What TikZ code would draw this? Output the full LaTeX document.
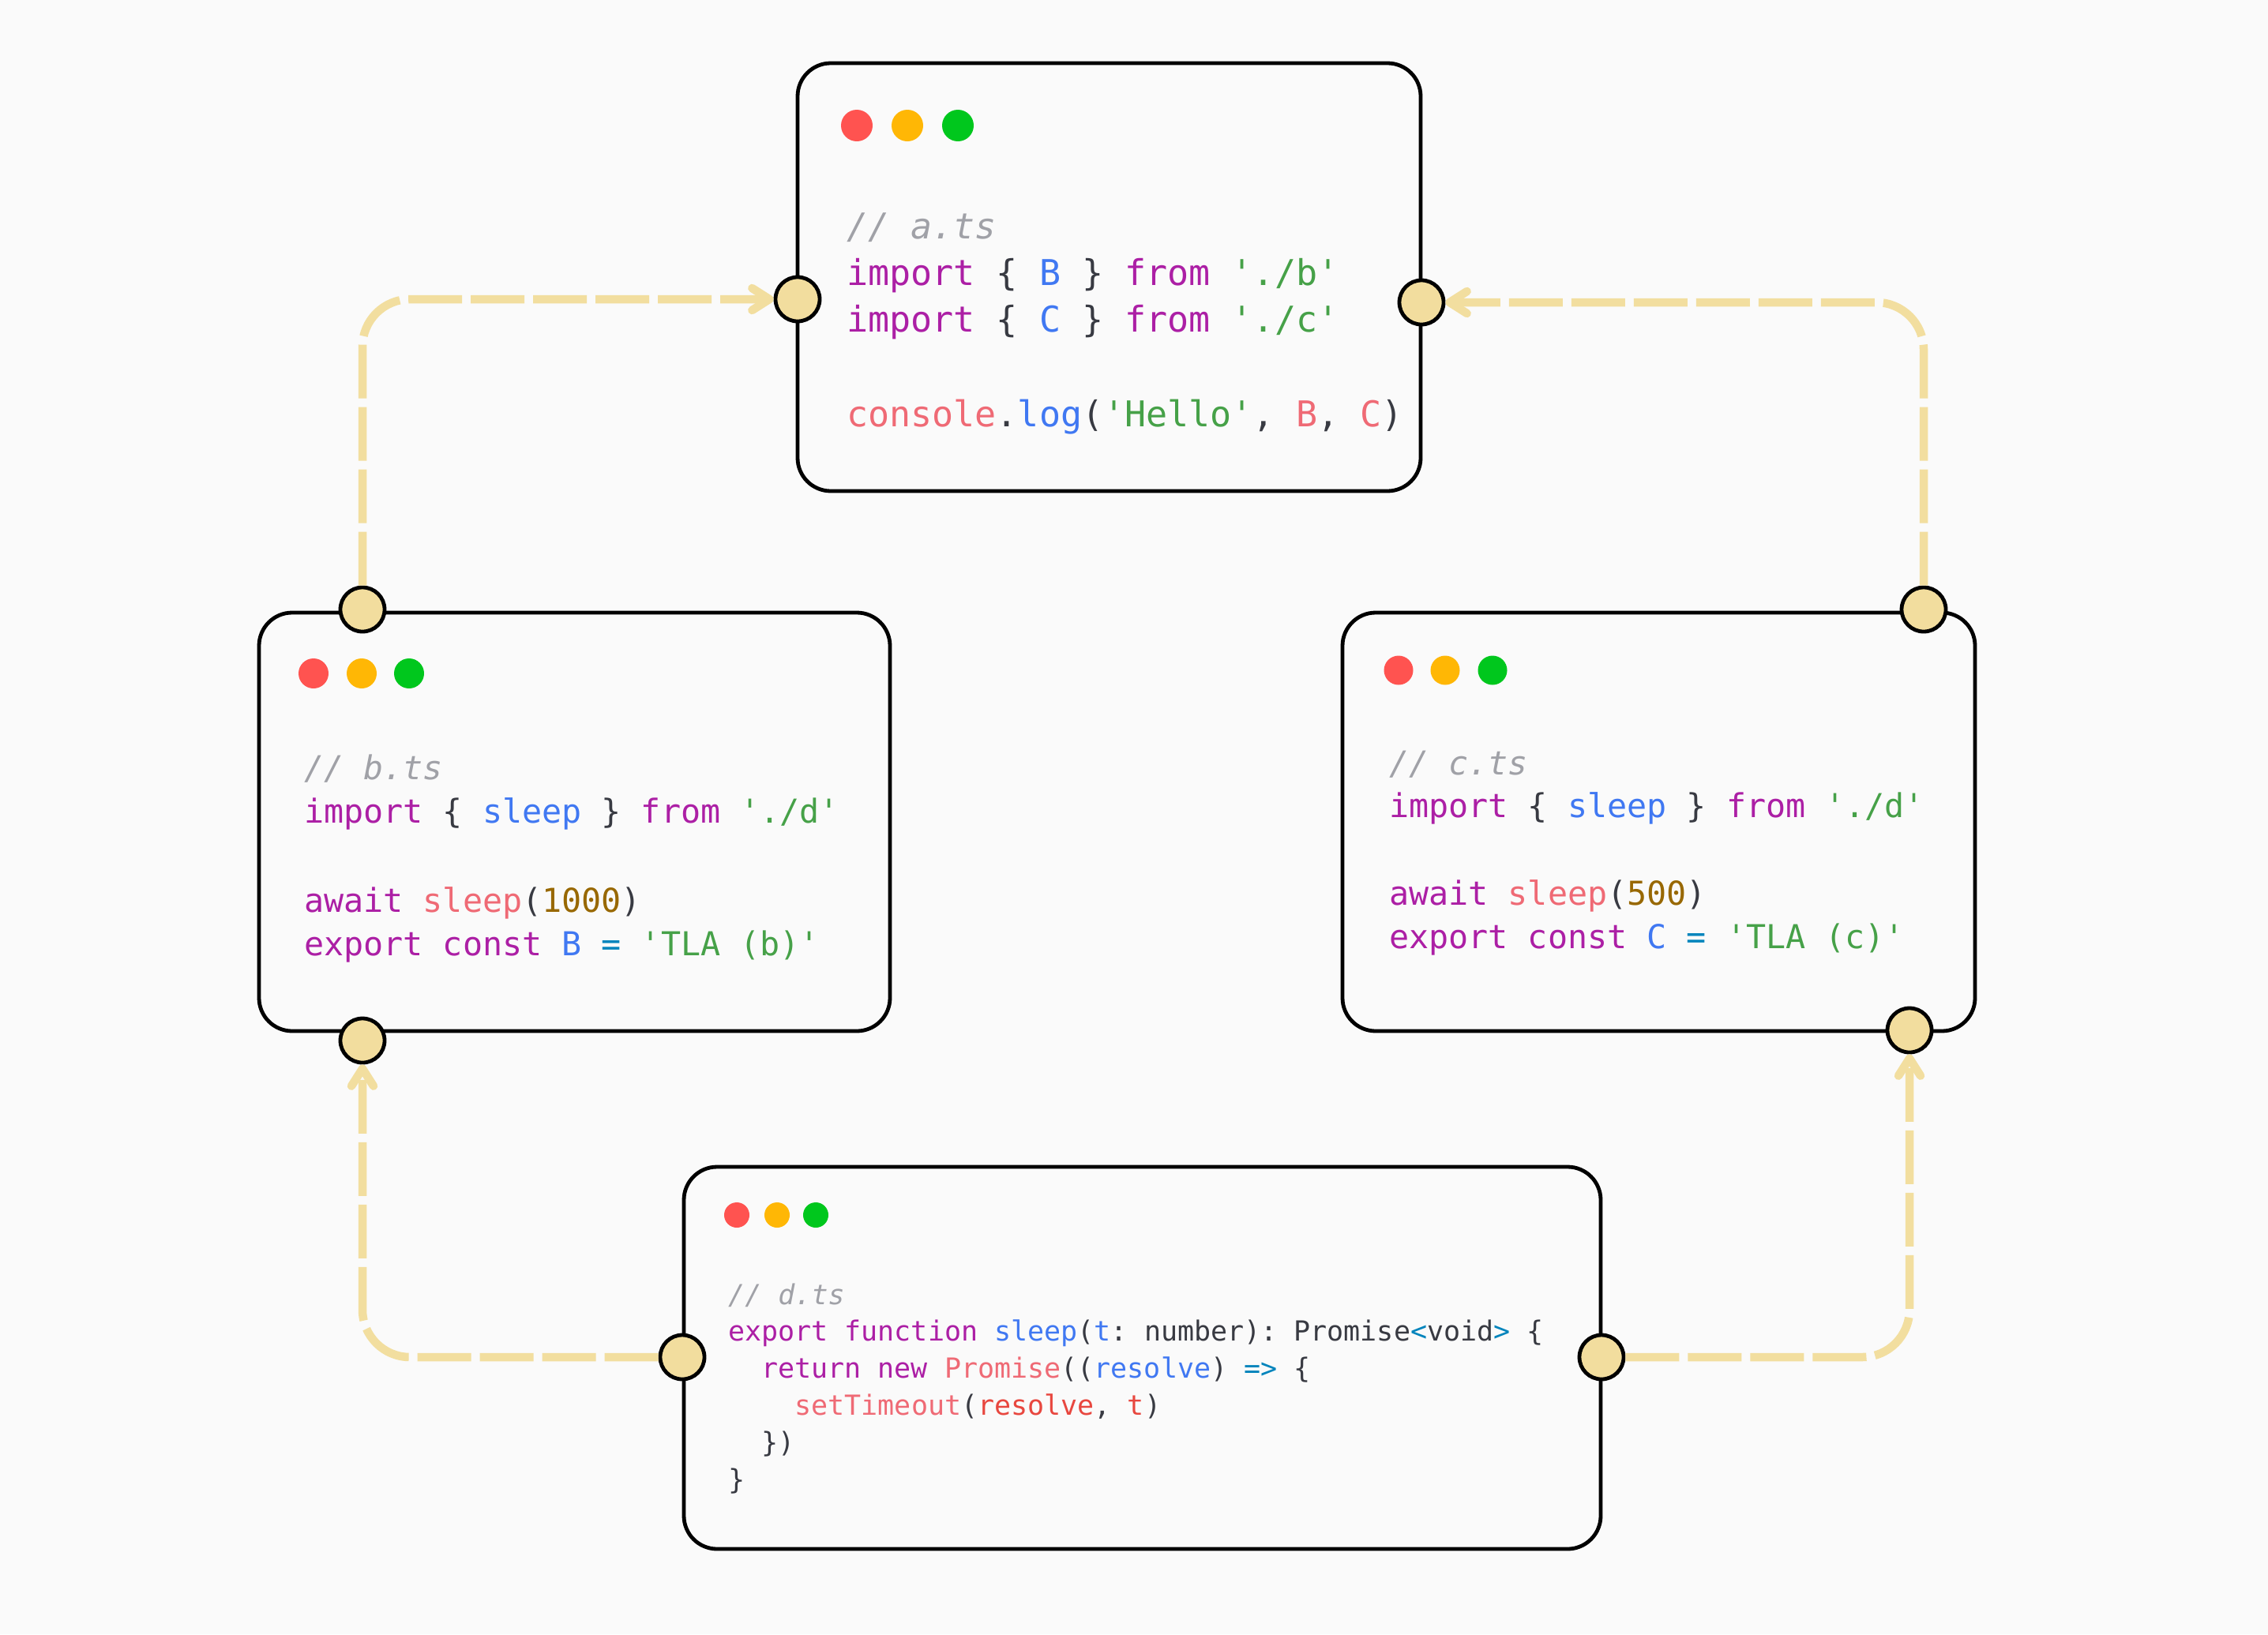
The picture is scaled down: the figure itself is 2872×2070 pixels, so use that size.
\documentclass[tikz,border=0pt]{standalone}
\usepackage{fontspec}
\setmonofont{DejaVu Sans Mono}
\usetikzlibrary{arrows.meta}

% palette
\definecolor{bg}{HTML}{FAFAFA}
\definecolor{plain}{HTML}{383A42}
\definecolor{kw}{HTML}{AC1FA5}
\definecolor{fn}{HTML}{4078F2}
\definecolor{strg}{HTML}{46A148}
\definecolor{numc}{HTML}{986801}
\definecolor{opc}{HTML}{0184BC}
\definecolor{callc}{HTML}{EF6A75}
\definecolor{varc}{HTML}{E8473F}
\definecolor{cmt}{HTML}{A0A1A7}
\definecolor{dotred}{HTML}{FF5350}
\definecolor{dotyel}{HTML}{FFB705}
\definecolor{dotgrn}{HTML}{00C71D}
\definecolor{conn}{HTML}{F2DE9F}
\definecolor{portfill}{HTML}{F2DD9E}

% syntax colouring helpers
\newcommand\cKw[1]{\textcolor{kw}{#1}}
\newcommand\cFn[1]{\textcolor{fn}{#1}}
\newcommand\cStr[1]{\textcolor{strg}{#1}}
\newcommand\cNum[1]{\textcolor{numc}{#1}}
\newcommand\cOp[1]{\textcolor{opc}{#1}}
\newcommand\cCall[1]{\textcolor{callc}{#1}}
\newcommand\cVar[1]{\textcolor{varc}{#1}}
\newcommand\cCmt[1]{\textcolor{cmt}{\itshape #1}}

\begin{document}
\begin{tikzpicture}[x=1pt,y=-1pt,
  codebox/.style={rectangle, draw=black, line width=4.8pt, rounded corners=42pt, fill=bg, inner sep=0pt},
  light/.style={circle, inner sep=0pt, draw=none},
  port/.style={circle, draw=black, line width=4.8pt, fill=portfill, minimum size=56pt, inner sep=0pt},
  codeA/.style={anchor=base west, inner sep=0pt, text=plain, font=\ttfamily\fontsize{45}{59}\selectfont},
  codeB/.style={anchor=base west, inner sep=0pt, text=plain, font=\ttfamily\fontsize{41.7}{56}\selectfont},
  codeD/.style={anchor=base west, inner sep=0pt, text=plain, font=\ttfamily\fontsize{35}{47}\selectfont},
  flow/.style={draw=conn, line width=10.5pt, dash pattern=on 68pt off 11pt, rounded corners=60pt,
    -{Straight Barb[length=22pt,width=28pt,round]}}
]
\useasboundingbox (0,0) rectangle (2872,2070);
\fill[bg] (0,0) rectangle (2872,2070);

% ---------- module windows ----------
\node[codebox, minimum width=789pt, minimum height=542pt] (boxA) at (1404.5,351) {};
\node[codebox, minimum width=799pt, minimum height=530pt] (boxB) at (727.5,1041) {};
\node[codebox, minimum width=801pt, minimum height=530pt] (boxC) at (2100.5,1041) {};
\node[codebox, minimum width=1161pt, minimum height=484pt] (boxD) at (1446.5,1720) {};

% window buttons
\node[light, fill=dotred, minimum size=40pt] (aR) at (1085,159) {};
\node[light, fill=dotyel, minimum size=40pt] (aY) at (1149,159) {};
\node[light, fill=dotgrn, minimum size=40pt] (aG) at (1213,159) {};
\node[light, fill=dotred, minimum size=38pt] (bR) at (397,853) {};
\node[light, fill=dotyel, minimum size=38pt] (bY) at (458,853) {};
\node[light, fill=dotgrn, minimum size=38pt] (bG) at (518,853) {};
\node[light, fill=dotred, minimum size=37pt] (cR) at (1771,849) {};
\node[light, fill=dotyel, minimum size=37pt] (cY) at (1830,849) {};
\node[light, fill=dotgrn, minimum size=37pt] (cG) at (1890,849) {};
\node[light, fill=dotred, minimum size=32pt] (dR) at (933,1539) {};
\node[light, fill=dotyel, minimum size=32pt] (dY) at (984,1539) {};
\node[light, fill=dotgrn, minimum size=32pt] (dG) at (1033,1539) {};

% ---------- a.ts ----------
\node[codeA] (a1) at (1072,302) {\cCmt{// a.ts}};
\node[codeA] (a2) at (1072,361) {\cKw{import} \{ \cFn{B} \} \cKw{from} \cStr{'./b'}};
\node[codeA] (a3) at (1072,420) {\cKw{import} \{ \cFn{C} \} \cKw{from} \cStr{'./c'}};
\node[codeA] (a4) at (1072,540) {\cCall{console}.\cFn{log}(\cStr{'Hello'}, \cCall{B}, \cCall{C})};

% ---------- b.ts ----------
\node[codeB] (b1) at (385,987) {\cCmt{// b.ts}};
\node[codeB] (b2) at (385,1042) {\cKw{import} \{ \cFn{sleep} \} \cKw{from} \cStr{'./d'}};
\node[codeB] (b3) at (385,1155) {\cKw{await} \cCall{sleep}(\cNum{1000})};
\node[codeB] (b4) at (385,1210) {\cKw{export} \cKw{const} \cFn{B} \cOp{=} \cStr{'TLA (b)'}};

% ---------- c.ts ----------
\node[codeB] (c1) at (1759,981) {\cCmt{// c.ts}};
\node[codeB] (c2) at (1759,1035) {\cKw{import} \{ \cFn{sleep} \} \cKw{from} \cStr{'./d'}};
\node[codeB] (c3) at (1759,1146) {\cKw{await} \cCall{sleep}(\cNum{500})};
\node[codeB] (c4) at (1759,1201) {\cKw{export} \cKw{const} \cFn{C} \cOp{=} \cStr{'TLA (c)'}};

% ---------- d.ts ----------
\node[codeD] (d1) at (922,1652) {\cCmt{// d.ts}};
\node[codeD] (d2) at (922,1698) {\cKw{export} \cKw{function} \cFn{sleep}(\cFn{t}: number): Promise\cOp{<}void\cOp{>} \{};
\node[codeD] (d3) at (964.1,1745) {\cKw{return} \cKw{new} \cCall{Promise}((\cFn{resolve}) \cOp{=>} \{};
\node[codeD] (d4) at (1006.3,1792) {\cCall{setTimeout}(\cVar{resolve}, \cVar{t})};
\node[codeD] (d5) at (964.1,1839) {\})};
\node[codeD] (d6) at (922,1886) {\}};

% ---------- ports ----------
\node[port] (al) at (1010,379) {};
\node[port] (ar) at (1800,383) {};
\node[port] (bt) at (459,772) {};
\node[port] (bb) at (459,1318) {};
\node[port] (ct) at (2436,772) {};
\node[port] (cb) at (2418,1305) {};
\node[port] (dl) at (864,1719) {};
\node[port] (dr) at (2028,1719) {};

% ---------- import edges ----------
\draw[flow] (bt) |- (al);
\draw[flow] (ct) |- (ar);
\draw[flow] (dl) -| (bb);
\draw[flow] (dr) -| (cb);
\end{tikzpicture}
\end{document}
